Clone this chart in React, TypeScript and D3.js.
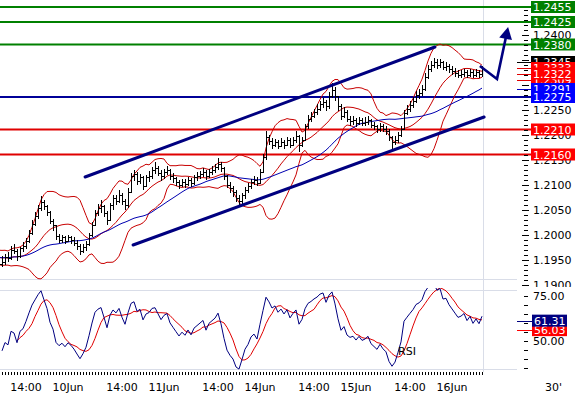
import React from "react";
import * as d3 from "d3";

// prices stored as pips above 1.1900; the first WARM bars sit left of the plot
const BASE = 1.19;
const WARM = 14;

const closePips = [
  58, 50, 62, 56, 46, 54, 66, 60, 50, 44, 56, 62, 52, 42,
  45, 55, 52, 70, 68, 56, 72, 76, 88, 104,
  122, 136, 152, 166, 156, 146, 128, 118, 96, 90,
  94, 88, 94, 90, 84, 76, 68, 74, 82, 98,
  120, 144, 152, 156, 144, 130, 158, 172, 168, 180,
  168, 158, 186, 216, 222, 208, 214, 198, 214, 218,
  230, 232, 224, 216, 226, 230, 218, 212, 206, 200,
  206, 202, 210, 204, 214, 218, 222, 226, 216, 226,
  230, 234, 242, 232, 216, 200, 192, 186, 172, 168,
  178, 190, 196, 206, 210, 204, 226, 254, 294, 288,
  280, 286, 278, 286, 280, 290, 280, 290, 298, 280,
  290, 316, 332, 338, 346, 352, 362, 366, 356, 378,
  390, 376, 356, 338, 346, 332, 328, 330, 324, 330,
  324, 326, 330, 320, 316, 312, 318, 312, 308, 294,
  286, 290, 300, 312, 344, 352, 360, 368, 380, 384,
  392, 416, 432, 440, 446, 440, 446, 436, 438, 432,
  428, 424, 420, 422, 426, 420, 426, 420, 426, 422,
  432,
];

const highPips = [
  66, 60, 70, 64, 58, 62, 74, 70, 60, 54, 64, 70, 62, 52,
  58, 62, 66, 78, 82, 72, 76, 86, 94, 110,
  130, 146, 160, 178, 170, 160, 148, 132, 120, 102,
  100, 98, 100, 98, 96, 90, 82, 82, 88, 104,
  126, 150, 162, 170, 160, 148, 164, 180, 180, 190,
  184, 172, 194, 224, 230, 226, 222, 218, 220, 228,
  236, 246, 238, 230, 232, 238, 232, 224, 216, 210,
  212, 212, 216, 214, 220, 226, 228, 234, 230, 232,
  238, 242, 254, 246, 236, 220, 206, 198, 190, 180,
  184, 196, 204, 212, 218, 216, 232, 262, 308, 300,
  294, 292, 290, 294, 290, 296, 294, 296, 308, 300,
  296, 322, 340, 346, 352, 362, 368, 374, 370, 386,
  404, 396, 378, 362, 356, 350, 338, 338, 334, 336,
  334, 336, 338, 332, 326, 320, 324, 322, 318, 312,
  298, 298, 306, 318, 350, 360, 368, 376, 388, 392,
  400, 424, 440, 448, 454, 452, 452, 448, 446, 442,
  438, 434, 430, 430, 432, 430, 432, 430, 432, 430,
  438,
];

const lowPips = [
  48, 42, 50, 48, 40, 44, 54, 50, 42, 36, 46, 52, 44, 34,
  36, 40, 46, 50, 62, 48, 54, 66, 72, 84,
  100, 118, 132, 148, 150, 138, 122, 108, 90, 84,
  84, 82, 86, 82, 78, 70, 60, 64, 68, 78,
  96, 118, 138, 144, 136, 120, 128, 150, 160, 164,
  160, 150, 154, 184, 208, 200, 202, 190, 196, 206,
  212, 222, 218, 208, 212, 220, 210, 204, 198, 192,
  196, 194, 198, 196, 200, 208, 212, 216, 210, 214,
  220, 224, 230, 226, 210, 194, 184, 176, 166, 158,
  162, 172, 184, 192, 200, 198, 202, 224, 250, 280,
  272, 276, 272, 276, 272, 278, 274, 278, 284, 266,
  276, 288, 312, 326, 334, 340, 348, 354, 348, 352,
  374, 368, 348, 330, 334, 326, 318, 320, 316, 320,
  318, 318, 320, 314, 310, 304, 306, 306, 300, 288,
  270, 280, 284, 296, 310, 340, 346, 354, 364, 372,
  378, 388, 412, 426, 434, 432, 434, 430, 428, 424,
  420, 416, 414, 414, 416, 414, 416, 414, 416, 414,
  416,
];

// support / resistance levels
const levelPrices = [1.2455, 1.2425, 1.238, 1.2275, 1.221, 1.216];
const levelLine = ["#008000", "#008000", "#008000", "#000098", "#e00000", "#e00000"];
const levelBox = ["#008000", "#008000", "#008000", "#0000ff", "#ff0000", "#ff0000"];

// trend channel (visible bar index, price)
const channelIdx = [[27.7, 144.3], [43.7, 160.7]];
const channelPrices = [[1.2115, 1.2375], [1.1979, 1.2235]];

// forecast arrow
const arrowIdx = [159.3, 165, 168.7];
const arrowPrices = [1.2337, 1.2311, 1.2415];

// value tags at the right of the price panel
const tagPrices = [1.2345, 1.2333, 1.2309, 1.2322, 1.2291];
const tagColors = ["#000000", "#ff0000", "#ff0000", "#ff0000", "#0000ff"];
const tagTicks = ["#000000", "#e00000", "#e00000", "#e00000", "#0000c0"];

const rsiTags = [56.03, 61.31];
const rsiTagColors = ["#ff0000", "#000080"];

const timeLabels = ["14:00", "10Jun", "14:00", "11Jun", "14:00", "14Jun", "14:00", "15Jun", "14:00", "16Jun"];
const timeIdx = [8, 22, 40, 54, 72, 86, 104, 118, 136, 150];

const FONT = "DejaVu Sans, Verdana, sans-serif";

function movingAvg(vals: (number | null)[], n: number, full: boolean) {
  return vals.map((_, i) => {
    const w = vals.slice(Math.max(0, i - n + 1), i + 1).filter((v) => v != null) as number[];
    if (full && w.length < n) return null;
    return w.length ? d3.mean(w)! : null;
  });
}

export default function App() {
  const close = closePips.map((v) => BASE + v / 10000);
  const high = highPips.map((v) => BASE + v / 10000);
  const low = lowPips.map((v) => BASE + v / 10000);
  const n = close.length;

  const x = d3.scaleLinear().domain([WARM, WARM + 160]).range([2, 482]);
  const xv = (i: number) => x(i + WARM);
  const y = d3.scaleLinear().domain([1.19, 1.2455]).range([284.5, 7]);
  const yR = d3.scaleLinear().domain([50, 75]).range([341, 296]);

  // bollinger 14/2 and the slow average
  const BBN = 14;
  const mid = movingAvg(close, BBN, true);
  const dev = close.map((_, i) => (i < BBN - 1 ? null : d3.deviation(close.slice(i - BBN + 1, i + 1))!));
  const upper = mid.map((m, i) => (m == null ? null : m + 2 * (dev[i] as number)));
  const lower = mid.map((m, i) => (m == null ? null : m - 2 * (dev[i] as number)));
  const slow = movingAvg(close, 33, false);

  // rsi 14 + signal 6
  const P = 14;
  const rsi: (number | null)[] = [null];
  let ag = 0, al = 0;
  for (let i = 1; i < n; i++) {
    const ch = close[i] - close[i - 1];
    const g = Math.max(ch, 0), l = Math.max(-ch, 0);
    if (i <= P) {
      ag += g / P; al += l / P;
      rsi.push(i === P ? 100 - 100 / (1 + ag / (al || 1e-9)) : null);
    } else {
      ag = (ag * (P - 1) + g) / P; al = (al * (P - 1) + l) / P;
      rsi.push(100 - 100 / (1 + ag / (al || 1e-9)));
    }
  }
  const sig = rsi.map((v, i) => {
    if (v == null) return null;
    const w = rsi.slice(Math.max(0, i - 5), i + 1).filter((d) => d != null) as number[];
    return w.length < 6 ? null : d3.mean(w)!;
  });

  const pl = (arr: (number | null)[], sy: (v: number) => number) =>
    d3.line<number | null>()
      .defined((d) => d != null)
      .x((_, i) => x(i))
      .y((d) => sy(d as number))(arr) || "";

  let bars = "";
  for (let i = 0; i < n; i++) {
    const xi = Math.round(x(i)) + 0.5;
    const o = i > 0 ? close[i - 1] : close[i];
    bars += `M${xi},${y(high[i]).toFixed(1)}V${y(low[i]).toFixed(1)}`;
    bars += `M${xi - 1.5},${Math.round(y(o)) + 0.5}h1.5`;
    bars += `M${xi},${Math.round(y(close[i])) + 0.5}h1.5`;
  }

  const minor = d3.range(1.19, 1.2456, 0.001);
  const major = d3.range(1.19, 1.2401, 0.005);

  // arrow
  const ap = arrowIdx.map((i, k) => [xv(i), y(arrowPrices[k])]);
  const [bx, by] = ap[1];
  const [tx, ty] = ap[2];
  const ang = Math.atan2(ty - by, tx - bx);
  const hl = 12, hw = 6.5;
  const baseX = tx - hl * Math.cos(ang), baseY = ty - hl * Math.sin(ang);
  const head = [
    [tx, ty],
    [baseX + hw * Math.sin(ang), baseY - hw * Math.cos(ang)],
    [baseX - hw * Math.sin(ang), baseY + hw * Math.cos(ang)],
  ];
  const shaft = [ap[0], ap[1], [baseX + 2 * Math.cos(ang), baseY + 2 * Math.sin(ang)]];

  const faint = "#d9dde8";

  return (
    <svg width={575} height={396} style={{ position: "absolute", left: 0, top: 0, background: "#fff" }} fontFamily={FONT} fontSize={11}>
      <defs>
        <clipPath id="pc"><rect x={0} y={0} width={517} height={286} /></clipPath>
        <clipPath id="rc"><rect x={0} y={288} width={517} height={84} /></clipPath>
        <clipPath id="ac"><rect x={500} y={0} width={75} height={287} /></clipPath>
      </defs>
      <rect width={575} height={396} fill="#fff" />

      {/* panel frame lines */}
      <line x1={0} x2={517} y1={279.5} y2={279.5} stroke={faint} />
      <line x1={0} x2={517} y1={290.5} y2={290.5} stroke={faint} />
      <line x1={0} x2={517} y1={369.5} y2={369.5} stroke={faint} />
      <line x1={483.5} x2={483.5} y1={0} y2={372} stroke={faint} />

      <g clipPath="url(#pc)">
        {/* levels */}
        {levelPrices.map((p, k) => (
          <line key={k} x1={0} x2={531} y1={y(p)} y2={y(p)} stroke={levelLine[k]} strokeWidth={2} />
        ))}
        {/* bollinger + average */}
        <path d={pl(upper, y)} fill="none" stroke="#c80000" strokeWidth={1} />
        <path d={pl(mid, y)} fill="none" stroke="#c80000" strokeWidth={1} />
        <path d={pl(lower, y)} fill="none" stroke="#c80000" strokeWidth={1} />
        <path d={pl(slow, y)} fill="none" stroke="#0000b0" strokeWidth={1} />
        {/* bars */}
        <path d={bars} fill="none" stroke="#000" strokeWidth={1} shapeRendering="crispEdges" />
        {/* channel */}
        {channelIdx.map((c, k) => (
          <line key={k} x1={xv(c[0])} x2={xv(c[1])} y1={y(channelPrices[k][0])} y2={y(channelPrices[k][1])}
            stroke="#000080" strokeWidth={3} strokeLinecap="round" />
        ))}
      </g>
      {levelPrices.map((p, k) => (
        <line key={k} x1={517} x2={531} y1={y(p)} y2={y(p)} stroke={levelLine[k]} strokeWidth={2} />
      ))}

      {/* arrow */}
      <path d={d3.line()(shaft as [number, number][]) || ""} fill="none" stroke="#000080" strokeWidth={2.6} strokeLinejoin="miter" />
      <path d={(d3.line()(head as [number, number][]) || "") + "Z"} fill="#000080" />

      {/* price axis */}
      <g clipPath="url(#ac)">
        {minor.map((p, k) => (
          <line key={k} x1={524} x2={528} y1={Math.round(y(p)) + 0.5} y2={Math.round(y(p)) + 0.5} stroke="#000" />
        ))}
        {major.map((p, k) => (
          <g key={k}>
            <line x1={522} x2={529} y1={Math.round(y(p)) + 0.5} y2={Math.round(y(p)) + 0.5} stroke="#000" />
            <text x={533} y={y(p) + 4} fill="#000">{p.toFixed(4)}</text>
          </g>
        ))}
      </g>

      {/* value tags */}
      {tagPrices.map((p, k) => (
        <g key={k}>
          <line x1={517} x2={531} y1={Math.round(y(p)) + 0.5} y2={Math.round(y(p)) + 0.5} stroke={tagTicks[k]} />
          <rect x={531} y={y(p) - 6} width={44} height={12} fill={tagColors[k]} />
          <text x={533} y={y(p) + 4} fill="#fff">{p.toFixed(4)}</text>
        </g>
      ))}
      {levelPrices.map((p, k) => (
        <g key={k}>
          <rect x={531} y={y(p) - 6} width={44} height={12} fill={levelBox[k]} />
          <text x={533} y={y(p) + 4} fill="#fff">{p.toFixed(4)}</text>
        </g>
      ))}

      {/* RSI panel */}
      <g clipPath="url(#rc)">
        <path d={pl(sig, yR)} fill="none" stroke="#e00000" strokeWidth={1} />
        <path d={pl(rsi, yR)} fill="none" stroke="#000080" strokeWidth={1} />
      </g>
      <text x={398} y={355} fill="#000">RSI</text>
      {d3.range(35, 80, 5).map((v) => (
        <line key={v} x1={524} x2={528} y1={Math.round(yR(v)) + 0.5} y2={Math.round(yR(v)) + 0.5} stroke="#000" />
      ))}
      {[75, 50].map((v) => (
        <text key={v} x={533} y={yR(v) + 4} fill="#000">{v.toFixed(2)}</text>
      ))}
      {rsiTags.map((v, k) => (
        <g key={k}>
          <line x1={517} x2={532} y1={Math.round(yR(v)) + 0.5} y2={Math.round(yR(v)) + 0.5} stroke={rsiTagColors[k]} />
          <rect x={532} y={yR(v) - 6} width={35} height={12} fill={rsiTagColors[k]} />
          <text x={534} y={yR(v) + 4} fill="#fff">{v.toFixed(2)}</text>
        </g>
      ))}

      {/* time axis */}
      {d3.range(0, 161).map((i) => (
        <line key={i} x1={Math.round(xv(i)) + 0.5} x2={Math.round(xv(i)) + 0.5} y1={372} y2={375} stroke="#000" />
      ))}
      {timeLabels.map((t, k) => (
        <text key={k} x={xv(timeIdx[k])} y={391} textAnchor="middle" fill="#000">{t}</text>
      ))}
      <text x={545} y={391} fill="#000">30'</text>
    </svg>
  );
}
